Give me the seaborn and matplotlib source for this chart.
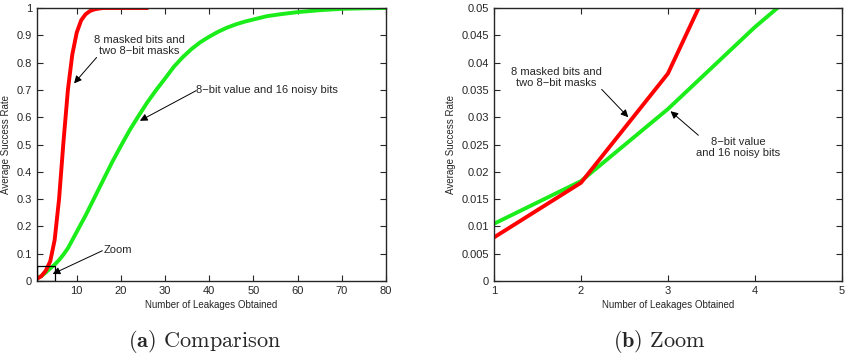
import numpy as np
import pandas as pd
import matplotlib
matplotlib.use('Agg')
import matplotlib.pyplot as plt
import seaborn as sns
from matplotlib.patches import Rectangle

sns.set_style('ticks')
plt.rcParams['font.family'] = ['Liberation Sans', 'DejaVu Sans']
plt.rcParams['mathtext.fontset'] = 'cm'

# data
red_x = [1, 2, 3, 4, 5, 6, 7, 8, 9, 10, 11, 12, 13, 14, 15, 16, 18, 20, 22, 24, 26]
red_y = [0.008, 0.018, 0.038, 0.072, 0.15, 0.30, 0.51, 0.70, 0.83, 0.91, 0.955, 0.977,
         0.989, 0.995, 0.998, 1.0, 1.0, 1.0, 1.0, 1.0, 1.0]
green_x = [1, 2, 3, 4, 5, 6, 7, 8, 9, 10, 12, 14, 16, 18, 20, 22, 24, 26, 28, 30, 32, 34,
           36, 38, 40, 42, 44, 46, 48, 50, 53, 56, 60, 65, 70, 75, 80]
green_y = [0.0105, 0.0183, 0.0315, 0.0465, 0.06, 0.077, 0.097, 0.12, 0.15, 0.18, 0.24,
           0.305, 0.37, 0.435, 0.495, 0.553, 0.605, 0.655, 0.70, 0.742, 0.785, 0.82, 0.85,
           0.875, 0.895, 0.913, 0.928, 0.94, 0.95, 0.958, 0.97, 0.977, 0.985, 0.992, 0.997,
           0.999, 1.0]

red_lbl = '8 masked bits and\ntwo 8\u2212bit masks'
green_lbl = '8\u2212bit value and 16 noisy bits'
green_lbl2 = '8\u2212bit value\nand 16 noisy bits'

RED = '#ff0000'
GREEN = '#1aed1a'

df_red = pd.DataFrame({'x': red_x, 'y': red_y})
df_green = pd.DataFrame({'x': green_x, 'y': green_y})

fig = plt.figure(figsize=(8.46, 3.58), dpi=100)
ax1 = fig.add_axes([0.0437, 0.215, 0.4125, 0.7626])
ax2 = fig.add_axes([0.584, 0.215, 0.411, 0.7626])

arr = dict(arrowstyle='-|>', color='k', lw=0.7, mutation_scale=11, shrinkA=0, shrinkB=0)

for ax in (ax1, ax2):
    sns.lineplot(data=df_green, x='x', y='y', color=GREEN, lw=2.8, ax=ax)
    sns.lineplot(data=df_red, x='x', y='y', color=RED, lw=2.8, ax=ax)
    ax.tick_params(direction='in', top=True, right=True, labelsize=8, length=4, width=0.8)
    for s in ax.spines.values():
        s.set_linewidth(1.0)
        s.set_visible(True)
    ax.set_xlabel('Number of Leakages Obtained', fontsize=7, labelpad=3)
    ax.set_ylabel('Average Success Rate', fontsize=7, labelpad=4)

# (a) comparison
ax1.set_xlim(1, 80)
ax1.set_ylim(0, 1)
ax1.set_xticks(range(10, 81, 10))
ax1.set_yticks(np.arange(0, 1.01, 0.1))
ax1.set_yticklabels(['%g' % round(v, 1) for v in np.arange(0, 1.01, 0.1)])
ax1.add_patch(Rectangle((1, 0), 4, 0.055, fill=False, ec='k', lw=0.9, zorder=5))
ax1.text(24.1, 0.862, red_lbl, ha='center', va='center', fontsize=8, linespacing=1.1)
ax1.annotate('', xy=(9.4, 0.724), xytext=(14.5, 0.819), arrowprops=arr)
ax1.text(37.1, 0.70, green_lbl, ha='left', va='center', fontsize=8)
ax1.annotate('', xy=(24.3, 0.587), xytext=(37.0, 0.697), arrowprops=arr)
ax1.text(16.0, 0.114, 'Zoom', ha='left', va='center', fontsize=8)
ax1.annotate('', xy=(4.55, 0.026), xytext=(15.8, 0.111), arrowprops=arr)

# (b) zoom
ax2.set_xlim(1, 5)
ax2.set_ylim(0, 0.05)
ax2.set_xticks([1, 2, 3, 4, 5])
yt = np.arange(0, 0.0501, 0.005)
ax2.set_yticks(yt)
ax2.set_yticklabels(['%g' % round(v, 3) for v in yt])
ax2.text(1.72, 0.0373, red_lbl, ha='center', va='center', fontsize=8, linespacing=1.1)
ax2.annotate('', xy=(2.544, 0.030), xytext=(2.238, 0.0351), arrowprops=arr)
ax2.text(3.81, 0.0245, green_lbl2, ha='center', va='center', fontsize=8, linespacing=1.1)
ax2.annotate('', xy=(3.03, 0.0311), xytext=(3.35, 0.0267), arrowprops=arr)

fig.text(0.242, 0.03, r'$\mathbf{(a)}$ Comparison', ha='center', va='baseline',
         fontsize=16, family='cmr10')
fig.text(0.78, 0.03, r'$\mathbf{(b)}$ Zoom', ha='center', va='baseline',
         fontsize=16, family='cmr10')

fig.savefig('out.png', dpi=100)
